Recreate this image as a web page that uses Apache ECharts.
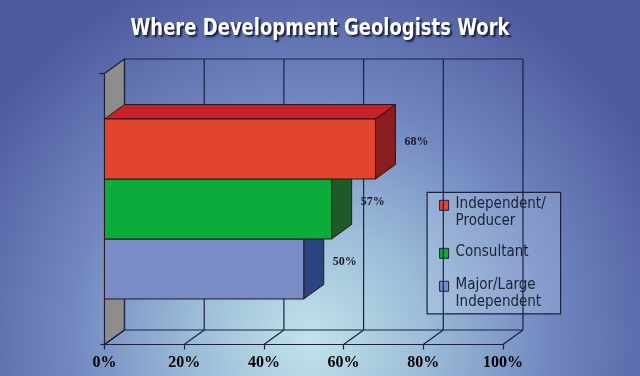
<!DOCTYPE html>
<html>
<head>
<meta charset="utf-8">
<script src="https://cdn.jsdelivr.net/npm/echarts@6/dist/echarts.min.js"></script>
<style>html,body{margin:0;padding:0;}#c{width:640px;height:376px;}</style>
</head>
<body>
<div id="c"></div>
<script>
// ---- data ----
const title = 'Where Development Geologists Work';
const category = ['Work'];
const seriesNames = ['Independent/\nProducer', 'Consultant', 'Major/Large\nIndependent'];
const seriesValues = [68, 57, 50];
const xTicks = [0, 20, 40, 60, 80, 100];

// ---- style ----
const DX = 20, DY = -14.5;
const LINE = '#1b2140';
const faces = [
  { front: '#e2452d', top: '#c7212b', side: '#8a1d1e', legend: '#e2452d' },
  { front: '#0aad3b', top: '#0a8a30', side: '#1d5a27', legend: '#0aad3b' },
  { front: '#7a8cc6', top: '#5a6eb0', side: '#2b4481', legend: '#7a8cc6' }
];
const narrow = "'Liberation Sans Narrow', 'DejaVu Sans Condensed', sans-serif";
const serif = "'Liberation Serif', 'DejaVu Serif', serif";

const chart = echarts.init(document.getElementById('c'), null, { renderer: 'canvas' });

function frameItem(params, api) {
  const cs = params.coordSys;
  const top = cs.y, bottom = cs.y + cs.height;
  const v = api.value(0);
  const x = api.coord([v, 0])[0];
  const children = [];
  const ls = { stroke: LINE, lineWidth: 1.2 };
  if (params.dataIndex === 0) {
    const xa = api.coord([xTicks[0], 0])[0];
    const xb = api.coord([xTicks[xTicks.length - 1], 0])[0];
    children.push({ type: 'polygon', shape: { points: [[xa, top], [xa + DX, top + DY], [xa + DX, bottom + DY], [xa, bottom]] },
      style: { fill: '#8e8d8c', stroke: LINE, lineWidth: 1.2 } });
    children.push({ type: 'line', shape: { x1: xa + DX, y1: top + DY, x2: xb + DX, y2: top + DY }, style: ls });
    children.push({ type: 'line', shape: { x1: xa + DX, y1: bottom + DY, x2: xb + DX, y2: bottom + DY }, style: ls });
    children.push({ type: 'line', shape: { x1: xa - 5, y1: top, x2: xa, y2: top }, style: ls });
    children.push({ type: 'line', shape: { x1: xa - 4, y1: bottom, x2: xa, y2: bottom }, style: ls });
  }
  children.push({ type: 'line', shape: { x1: x + DX, y1: top + DY, x2: x + DX, y2: bottom + DY }, style: ls });
  children.push({ type: 'line', shape: { x1: x, y1: bottom, x2: x + DX, y2: bottom + DY }, style: ls });
  return { type: 'group', children };
}

function barRenderer(i) {
  return function (params, api) {
    const v = api.value(0);
    const p = api.coord([v, api.value(1)]);
    const x0 = api.coord([0, api.value(1)])[0];
    const band = api.size([0, 1])[1];
    const h = band * 0.664 / seriesValues.length;
    const y = p[1] - h * seriesValues.length / 2 + i * h;
    const x1 = p[0];
    const f = faces[i];
    const st = { stroke: '#2a1818', lineWidth: 1 };
    return { type: 'group', children: [
      { type: 'polygon', shape: { points: [[x0, y], [x1, y], [x1 + DX, y + DY], [x0 + DX, y + DY]] }, style: Object.assign({ fill: f.top }, st) },
      { type: 'polygon', shape: { points: [[x1, y], [x1 + DX, y + DY], [x1 + DX, y + h + DY], [x1, y + h]] }, style: Object.assign({ fill: f.side }, st) },
      { type: 'rect', shape: { x: x0, y: y, width: x1 - x0, height: h }, style: Object.assign({ fill: f.front }, st) },
      { type: 'text', style: { x: x1 + DX + 9, y: y + h / 2 + DY / 2, text: v + '%', fill: '#1a1a2a',
          font: 'bold 12px ' + serif, textAlign: 'left', textVerticalAlign: 'middle' } }
    ] };
  };
}

const series = [{
  type: 'custom', name: 'frame', z: 1, silent: true,
  data: xTicks.map(t => [t, 0]),
  encode: { x: 0, y: 1 },
  renderItem: frameItem
}];
seriesNames.forEach((n, i) => {
  series.push({
    type: 'custom', name: n, z: 10 - i,
    data: [[seriesValues[i], 0]],
    encode: { x: 0, y: 1 },
    renderItem: barRenderer(i)
  });
});

// legend built from series names
const legX = 426.5, legY = 191.7, legW = 133.5, legH = 121.5;
const legendChildren = [{ type: 'rect', shape: { x: 0, y: 0, width: legW, height: legH },
  style: { fill: 'rgba(200,220,240,0.25)', stroke: LINE, lineWidth: 1.2 } }];
const entryTops = [6, 54, 87];
seriesNames.forEach((n, i) => {
  legendChildren.push({ type: 'rect', shape: { x: 12.5, y: entryTops[i] + 2, width: 9, height: 10 },
    style: { fill: faces[i].legend, stroke: '#202030', lineWidth: 1 } });
  legendChildren.push({ type: 'text', x: 28.5, y: entryTops[i] - 2,
    style: { text: n, fill: '#1c2233', font: '15px ' + narrow, lineHeight: 16.5, textVerticalAlign: 'top' } });
});

chart.setOption({
  backgroundColor: {
    type: 'radial', x: 310, y: 340, r: 390, global: true,
    colorStops: [
      { offset: 0, color: '#c2e3ea' },
      { offset: 0.3, color: '#9cbcd8' },
      { offset: 0.62, color: '#7186c0' },
      { offset: 1, color: '#4e5a9e' }
    ]
  },
  animation: false,
  grid: { left: 104.5, right: 137, top: 73.5, bottom: 31.5, containLabel: false },
  xAxis: {
    type: 'value', min: 0, max: 100, interval: 20,
    splitLine: { show: false },
    axisLine: { show: true, lineStyle: { color: LINE, width: 1.2 } },
    axisTick: { show: true, length: 5, lineStyle: { color: LINE, width: 1.2 } },
    axisLabel: { formatter: '{value}%', color: '#000000', fontFamily: serif, fontWeight: 'bold', fontSize: 16, margin: 10 }
  },
  yAxis: {
    type: 'category', data: category,
    axisLine: { show: false }, axisTick: { show: false }, axisLabel: { show: false }, splitLine: { show: false }
  },
  graphic: [
    { type: 'text', x: 320, y: 29, scaleX: 0.87, z: 20,
      style: { x: 0, y: 0, text: title, fill: '#ffffff', font: 'bold 23px ' + narrow, textAlign: 'center', textVerticalAlign: 'middle',
        textShadowColor: 'rgba(0,0,20,0.75)', textShadowBlur: 2, textShadowOffsetX: 2, textShadowOffsetY: 2 } },
    { type: 'group', left: legX, top: legY, children: legendChildren, z: 20 }
  ],
  series
});
</script>
</body>
</html>
